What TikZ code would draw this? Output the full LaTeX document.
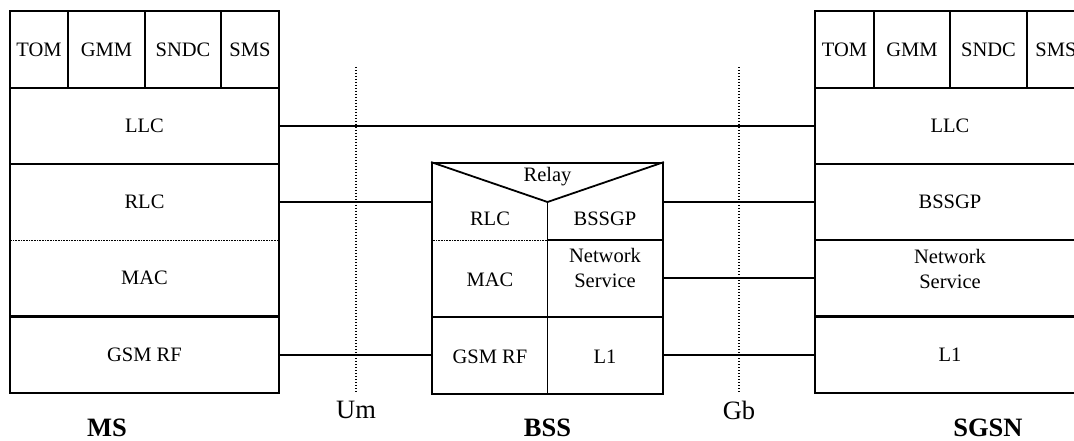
\documentclass[tikz,border=0pt]{standalone}
\usepackage{fontspec}
\setmainfont{Liberation Serif}

\begin{document}
\begin{tikzpicture}[x=1pt, y=-1pt,
    layer/.style = {draw, line width=1.8pt, inner sep=0pt, align=center, font=\fontsize{20.5}{24.5}\selectfont},
    txt/.style = {inner sep=0pt, align=center, font=\fontsize{20.5}{24.5}\selectfont},
    link/.style = {line width=1.4pt},
    iface/.style = {line width=1.2pt, dash pattern=on 1.2pt off 1.8pt},
    entity/.style = {inner sep=0pt, font=\fontsize{26.5}{30}\selectfont\bfseries},
    ifname/.style = {inner sep=0pt, font=\fontsize{26.5}{30}\selectfont}]
    \useasboundingbox (0,0) rectangle (1074,441);
    \clip (0,0) rectangle (1074,441);
    % MS stack
    \node[layer, minimum width=58pt, minimum height=77pt] (mstom) at (39,49.5) {TOM};
    \node[layer, minimum width=77pt, minimum height=77pt] (msgmm) at (106.5,49.5) {GMM};
    \node[layer, minimum width=76pt, minimum height=77pt] (mssndc) at (183,49.5) {SNDC};
    \node[layer, minimum width=58pt, minimum height=77pt] (mssms) at (250,49.5) {SMS};
    \node[layer, minimum width=269pt, minimum height=76pt] (msllc) at (144.5,126) {LLC};
    \node[txt, minimum width=269pt, minimum height=76pt] (msrlc) at (144.5,202) {RLC};
    \node[txt, minimum width=269pt, minimum height=76pt] (msmac) at (144.5,278) {MAC};
    \draw[line width=1.8pt] (msrlc.north west) rectangle (msmac.south east);
    \draw[line width=0.8pt, dash pattern=on 0.8pt off 0.8pt] (msrlc.south west) -- (msrlc.south east);
    \node[layer, minimum width=269pt, minimum height=76pt] (msrf) at (144.5,355) {GSM RF};
    \node[entity] (ms) at (107,428) {MS};
    % BSS relay
    \node[draw, line width=1.8pt, minimum width=231pt, minimum height=231pt] (bss) at (547.5,278.5) {};
    \draw[line width=1.8pt] (bss.north west) -- (547.5,202) -- (bss.north east);
    \draw[line width=1.8pt] (547.5,202) -- (bss.south);
    \draw[line width=1.8pt] (bss.west |- 0,317) -- (bss.east |- 0,317);
    \draw[line width=1.8pt] (547.5,240) -- (bss.east |- 0,240);
    \draw[line width=0.8pt, dash pattern=on 0.8pt off 0.8pt] (bss.west |- 0,240) -- (547.5,240);
    \node[txt] (relay) at (547.5,177) {Relay};
    \node[txt] (bsrlc) at (490,219) {RLC};
    \node[txt] (bsbssgp) at (605,219) {BSSGP};
    \node[txt] (bsmac) at (490,280) {MAC};
    \node[txt] (bsns) at (605,268) {Network\\Service};
    \node[txt] (bsrf) at (490,357) {GSM RF};
    \node[txt] (bsl1) at (605,357) {L1};
    \node[entity] (bsslabel) at (547.5,428) {BSS};
    % SGSN stack
    \node[layer, minimum width=59pt, minimum height=77pt] (sgtom) at (844.5,49.5) {TOM};
    \node[layer, minimum width=76pt, minimum height=77pt] (sggmm) at (912,49.5) {GMM};
    \node[layer, minimum width=77pt, minimum height=77pt] (sgsndc) at (988.5,49.5) {SNDC};
    \node[layer, minimum width=58pt, minimum height=77pt] (sgsms) at (1056,49.5) {SMS};
    \node[layer, minimum width=270pt, minimum height=76pt] (sgllc) at (950,126) {LLC};
    \node[layer, minimum width=270pt, minimum height=76pt] (sgbssgp) at (950,202) {BSSGP};
    \node[layer, minimum width=270pt, minimum height=76pt, label={[txt, yshift=9pt]center:Network\\Service}] (sgns) at (950,278) {};
    \node[layer, minimum width=270pt, minimum height=76pt] (sgl1) at (950,355) {L1};
    \node[entity] (sgsn) at (988,428) {SGSN};
    % interfaces
    \coordinate (umtop) at (356,67);
    \coordinate (gbtop) at (739,67);
    \node[ifname] (um) at (356,410) {Um};
    \node[ifname] (gb) at (739,410) {Gb};
    \draw[iface] (umtop) -- (umtop |- msrf.south);
    \draw[iface] (gbtop) -- (gbtop |- msrf.south);
    % peer links
    \draw[link] (msllc.east) -- (sgllc.west);
    \draw[link] (msrlc.east) -- (msrlc.east -| bss.west);
    \draw[link] (msrf.east) -- (msrf.east -| bss.west);
    \draw[link] (sgbssgp.west) -- (sgbssgp.west -| bss.east);
    \draw[link] (sgns.west) -- (sgns.west -| bss.east);
    \draw[link] (sgl1.west) -- (sgl1.west -| bss.east);
\end{tikzpicture}
\end{document}
